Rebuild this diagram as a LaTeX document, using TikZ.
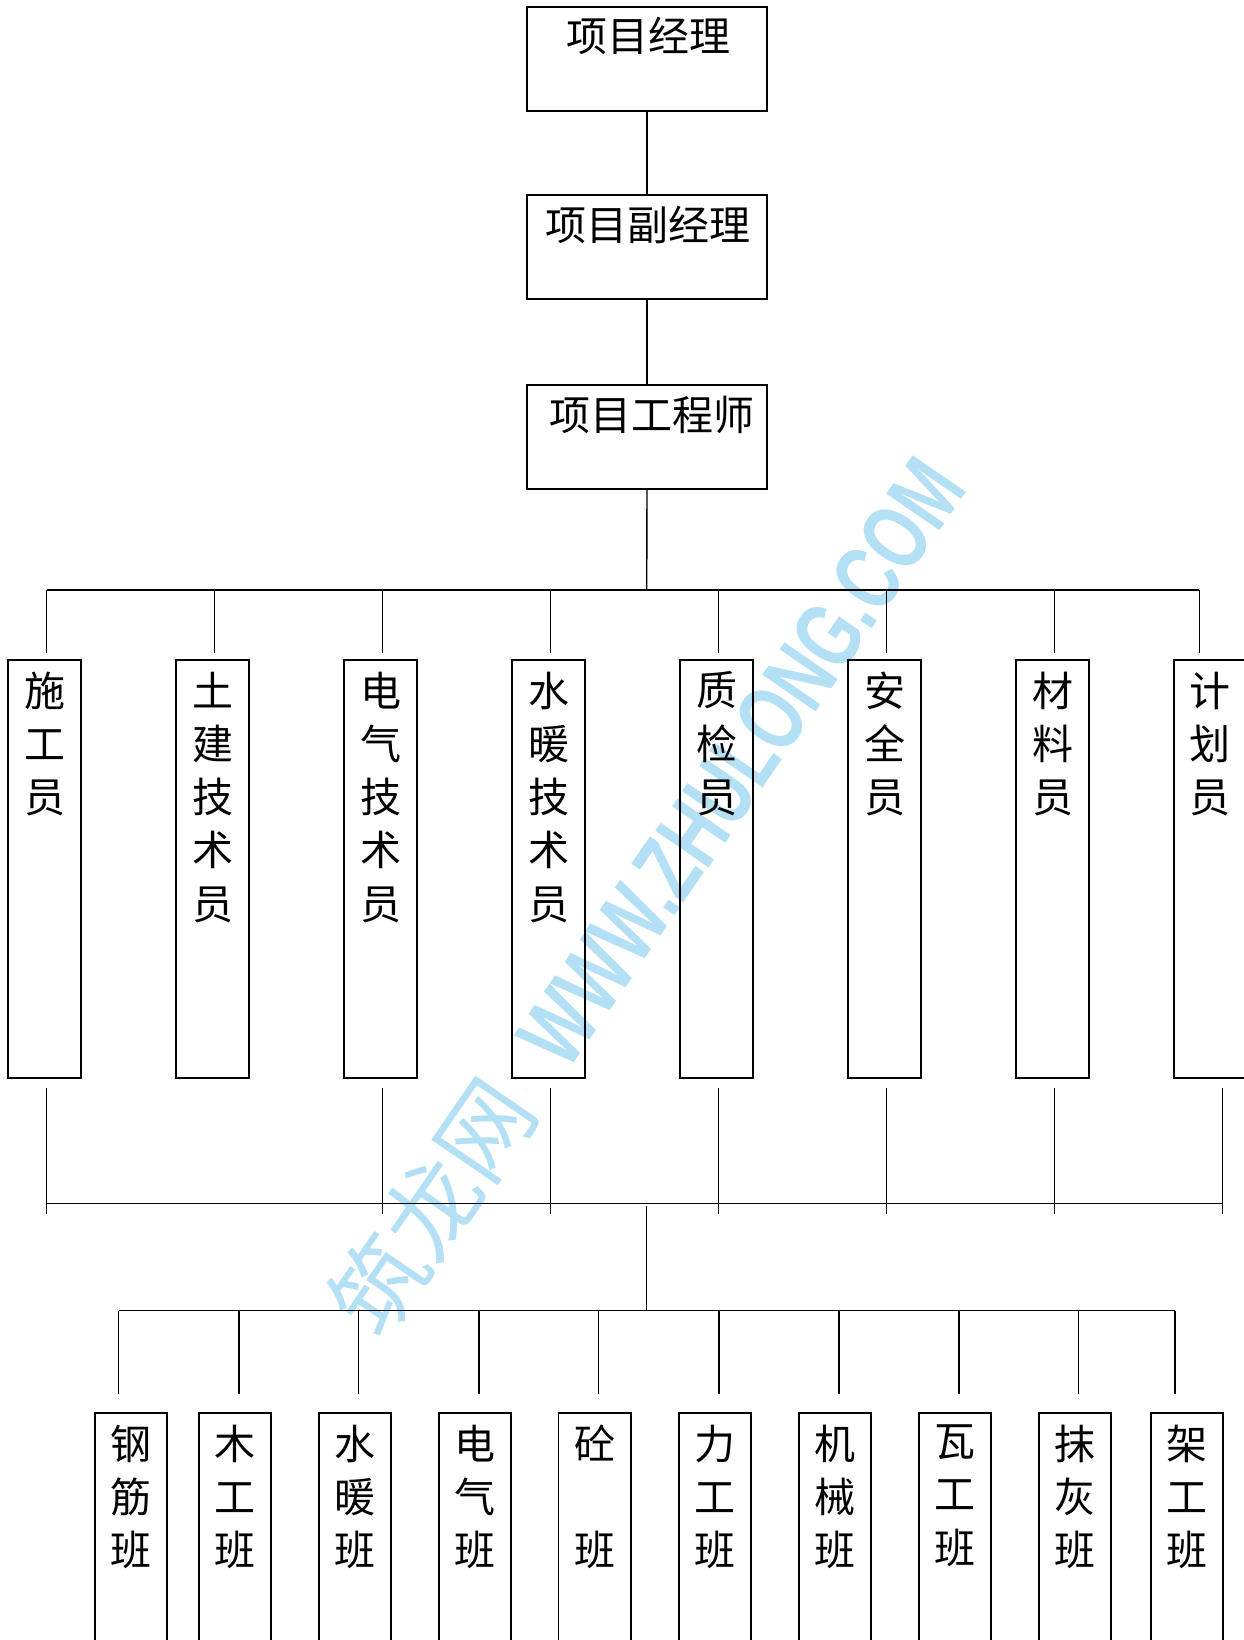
\documentclass[tikz,border=0pt]{standalone}
\usepackage{fontspec}
\usepackage{graphicx}
\newfontfamily\cjk{Noto Sans CJK SC}
\newfontfamily\wmlatin{Liberation Sans}
\usetikzlibrary{calc}
\definecolor{wmblue}{RGB}{180,224,245}
\tikzset{
  box/.style={draw, line width=1.9pt, rectangle, inner sep=0pt, outer sep=0pt, anchor=north west},
  tbox/.style={box, minimum width=240.6pt, minimum height=103.7pt},
  ubox/.style={box, minimum width=72.7pt, minimum height=418.3pt},
  lbox/.style={box, minimum width=72.3pt, minimum height=260pt},
  conn/.style={line width=1.4pt},
  lbl/.style={font=\cjk\fontsize{41}{53.3}\selectfont, inner sep=0pt, align=center},
  wm/.style={text=wmblue, inner sep=0pt, rotate=55.5, anchor=base west}
}
\begin{document}
\begin{tikzpicture}[x=1pt,y=-1pt]
\useasboundingbox (0,0) rectangle (1244,1640);
\clip (0,0) rectangle (1244,1640);
\fill[white] (0,0) rectangle (1244,1640);

% watermark
\node[wm] (wmk) at (381,1344) {{\cjk\fontsize{94}{94}\selectfont 筑龙网}\hspace{47pt}\scalebox{0.71}[1]{\wmlatin\bfseries\fontsize{94}{94}\selectfont WWW.ZHULONG.COM}};

% top chain
\node[tbox] (pm) at (526.7,7.3) {};
\node[tbox] (pd) at (526.7,195) {};
\node[tbox] (pe) at (526.7,385) {};
\node[lbl] (pmt) at (648,36) {项目经理};
\node[lbl] (pdt) at (648,225) {项目副经理};
\node[lbl] (pet) at (652,415) {项目工程师};
\draw[conn] (pm.south) -- (pd.north);
\draw[conn] (pd.south) -- (pe.north);

\coordinate (b1) at (646.7,590);
\coordinate (b2) at (646.7,1203.5);
\coordinate (b3) at (646.7,1310.5);
\draw[conn] (pe.south) -- (b1);

% upper staff boxes
\node[ubox] (s1) at (8.3,660) {};
\node[ubox] (s2) at (176.3,660) {};
\node[ubox] (s3) at (344.3,660) {};
\node[ubox] (s4) at (512.3,660) {};
\node[ubox] (s5) at (680.3,660) {};
\node[ubox] (s6) at (848.3,660) {};
\node[ubox] (s7) at (1016.3,660) {};
\node[ubox] (s8) at (1174,660) {};
\node[lbl, anchor=north] (s1t) at ([yshift=-11.5pt]s1.north) {施\\工\\员};
\node[lbl, anchor=north] (s2t) at ([yshift=-11.5pt]s2.north) {土\\建\\技\\术\\员};
\node[lbl, anchor=north] (s3t) at ([yshift=-11.5pt]s3.north) {电\\气\\技\\术\\员};
\node[lbl, anchor=north] (s4t) at ([yshift=-11.5pt]s4.north) {水\\暖\\技\\术\\员};
\node[lbl, anchor=north] (s5t) at ([yshift=-11.5pt]s5.north) {质\\检\\员};
\node[lbl, anchor=north] (s6t) at ([yshift=-11.5pt]s6.north) {安\\全\\员};
\node[lbl, anchor=north] (s7t) at ([yshift=-11.5pt]s7.north) {材\\料\\员};
\node[lbl, anchor=north] (s8t) at ([yshift=-11.5pt]s8.north) {计\\划\\员};

% bar 1 and drops
\draw[conn] ([xshift=2pt]s1.north |- b1) -- ([xshift=-11pt]s8.north |- b1);
\foreach \n in {s1,s2,s3,s4,s5,s6,s7}
  \draw[conn] ([xshift=2pt]\n.north |- b1) -- ([xshift=2pt,yshift=7.3pt]\n.north);
\draw[conn] ([xshift=-11pt]s8.north |- b1) -- ([xshift=-11pt,yshift=7.3pt]s8.north);

% bar 2 and rises
\draw[conn] ([xshift=2pt]s1.south |- b2) -- ([xshift=12.3pt]s8.south |- b2);
\foreach \n in {s1,s3,s4,s5,s6,s7}
  \draw[conn] ([xshift=2pt,yshift=-10pt]\n.south) -- ([xshift=2pt]\n.south |- b2) -- ++(0,10);
\draw[conn] ([xshift=12.3pt,yshift=-10pt]s8.south) -- ([xshift=12.3pt]s8.south |- b2) -- ++(0,10);

% central link
\draw[conn] ([yshift=-2pt]b2) -- (b3);

% lower crew boxes
\node[lbox] (t1) at (95,1413) {};
\node[lbox] (t2) at (199,1413) {};
\node[lbox] (t3) at (318.6,1413) {};
\node[lbox] (t4) at (438.7,1413) {};
\node[lbox] (t5) at (558.5,1413) {};
\node[lbox] (t6) at (679,1413) {};
\node[lbox] (t7) at (798.7,1413) {};
\node[lbox] (t8) at (918.8,1413) {};
\node[lbox] (t9) at (1038.6,1413) {};
\node[lbox] (t10) at (1150.8,1413) {};
\node[lbl, anchor=north] (t1t) at ([yshift=-11.5pt]t1.north) {钢\\筋\\班};
\node[lbl, anchor=north] (t2t) at ([yshift=-11.5pt]t2.north) {木\\工\\班};
\node[lbl, anchor=north] (t3t) at ([yshift=-11.5pt]t3.north) {水\\暖\\班};
\node[lbl, anchor=north] (t4t) at ([yshift=-11.5pt]t4.north) {电\\气\\班};
\node[lbl, anchor=north] (t5t) at ([yshift=-11.5pt]t5.north) {砼\\\mbox{}\\班};
\node[lbl, anchor=north] (t6t) at ([yshift=-11.5pt]t6.north) {力\\工\\班};
\node[lbl, anchor=north] (t7t) at ([yshift=-11.5pt]t7.north) {机\\械\\班};
\node[lbl, anchor=north] (t8t) at ([yshift=-11.5pt]t8.north) {瓦\\工\\班};
\node[lbl, anchor=north] (t9t) at ([yshift=-11.5pt]t9.north) {抹\\灰\\班};
\node[lbl, anchor=north] (t10t) at ([yshift=-11.5pt]t10.north) {架\\工\\班};

% bar 3 and drops
\draw[conn] ([xshift=-12.5pt]t1.north |- b3) -- ([xshift=-11.9pt]t10.north |- b3);
\draw[conn] ([xshift=-12.5pt]t1.north |- b3) -- ([xshift=-12.5pt,yshift=19.5pt]t1.north);
\foreach \n in {t2,t3,t4,t5,t6,t7,t8,t9}
  \draw[conn] ([xshift=4pt]\n.north |- b3) -- ([xshift=4pt,yshift=19.5pt]\n.north);
\draw[conn] ([xshift=-11.9pt]t10.north |- b3) -- ([xshift=-11.9pt,yshift=19.5pt]t10.north);
\end{tikzpicture}
\end{document}
